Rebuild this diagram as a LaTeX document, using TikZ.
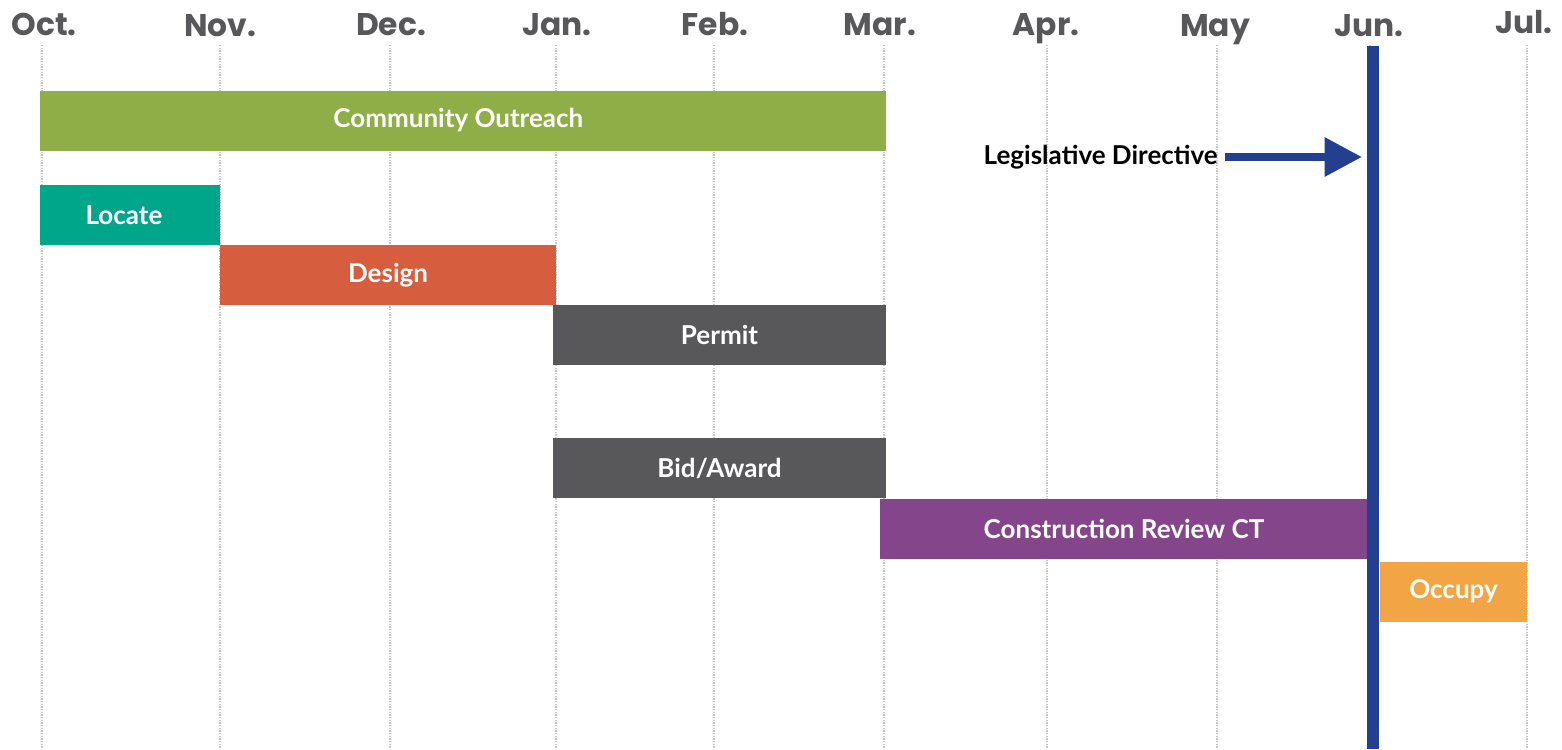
\documentclass[tikz,border=0pt]{standalone}
\usepackage{fontspec}
\setmainfont{Lato}
\newfontfamily\monthfont{Poppins}
\usetikzlibrary{arrows.meta}
\definecolor{cgreen}{HTML}{8FAE48}
\definecolor{cteal}{HTML}{00A68A}
\definecolor{corange}{HTML}{D65E3E}
\definecolor{cgray}{HTML}{58585A}
\definecolor{cpurple}{HTML}{84458A}
\definecolor{coccupy}{HTML}{F1A545}
\definecolor{cblue}{HTML}{233F8F}
\definecolor{cmonth}{HTML}{58585A}
\definecolor{cgrid}{HTML}{C8C8C8}
\tikzset{
  month/.style={anchor=base, text=cmonth, font=\monthfont\bfseries\fontsize{23.5}{25}\selectfont, inner sep=0pt},
  gridline/.style={cgrid, line width=1pt, dash pattern=on 1pt off 1pt},
  bar/.style={draw=none, fill=#1, text=white, font=\bfseries\fontsize{19.5}{21}\selectfont, minimum height=45pt, inner sep=0pt},
  deadline/.style={fill=cblue},
  directive/.style={draw=cblue, line width=6pt, -{Triangle[length=28pt,width=28pt]}},
}
\begin{document}
\begin{tikzpicture}[x=0.75pt,y=-0.75pt]
\useasboundingbox (0,0) rectangle (1562,749);
% grid lines
\foreach \nm/\gx in {oct/42, nov/220, dec/390, jan/556, feb/714, mar/884, apr/1047, may/1217, jun/1370, jul/1527}{
  \coordinate (g\nm top) at (\gx,45);
  \coordinate (g\nm bot) at (\gx,749);
  \draw[gridline] (g\nm top) -- (g\nm bot);
}
% month labels
\node[month] (moct) at (44,36) {Oct.};
\node[month] (mnov) at (220,37) {Nov.};
\node[month] (mdec) at (391,36) {Dec.};
\node[month] (mjan) at (557,36) {Jan.};
\node[month] (mfeb) at (715,36) {Feb.};
\node[month] (mmar) at (880,36) {Mar.};
\node[month] (mapr) at (1046,36) {Apr.};
\node[month] (mmay) at (1215,37) {May};
\node[month] (mjun) at (1369,37) {Jun.};
\node[month] (mjul) at (1524,34) {Jul.};
% bars
\node[bar=cgreen, minimum width={846*0.75pt}] (outreach) at (463,120.5) {\hspace*{-7pt}Community Outreach};
\node[bar=cteal, minimum width={180*0.75pt}] (locate) at (130,215) {\hspace*{-9pt}Locate};
\node[bar=corange, minimum width={336*0.75pt}] (design) at (388,275) {Design};
\node[bar=cgray, minimum width={333*0.75pt}] (permit) at (719.5,335) {Permit};
\node[bar=cgray, minimum width={333*0.75pt}] (bid) at (719.5,468) {Bid/Award};
\node[bar=cpurple, minimum width={488*0.75pt}] (constr) at (1124,528.5) {Construction Review CT};
\node[bar=coccupy, minimum width={147*0.75pt}] (occupy) at (1453.5,591.5) {Occupy};
% deadline line
\node[deadline, minimum width={12*0.75pt}, minimum height={703*0.75pt}, inner sep=0pt, anchor=north] (june) at (1373,46) {};
% legislative directive
\node[font=\fontsize{19.5}{21}\selectfont\bfseries, text=black, inner sep=0pt, anchor=east] (ld) at (1218,157) {Legislative Directive};
\coordinate (ldtip) at (1362,157);
\draw[directive] ([xshift=5pt]ld.east) -- (ldtip);
\end{tikzpicture}
\end{document}
